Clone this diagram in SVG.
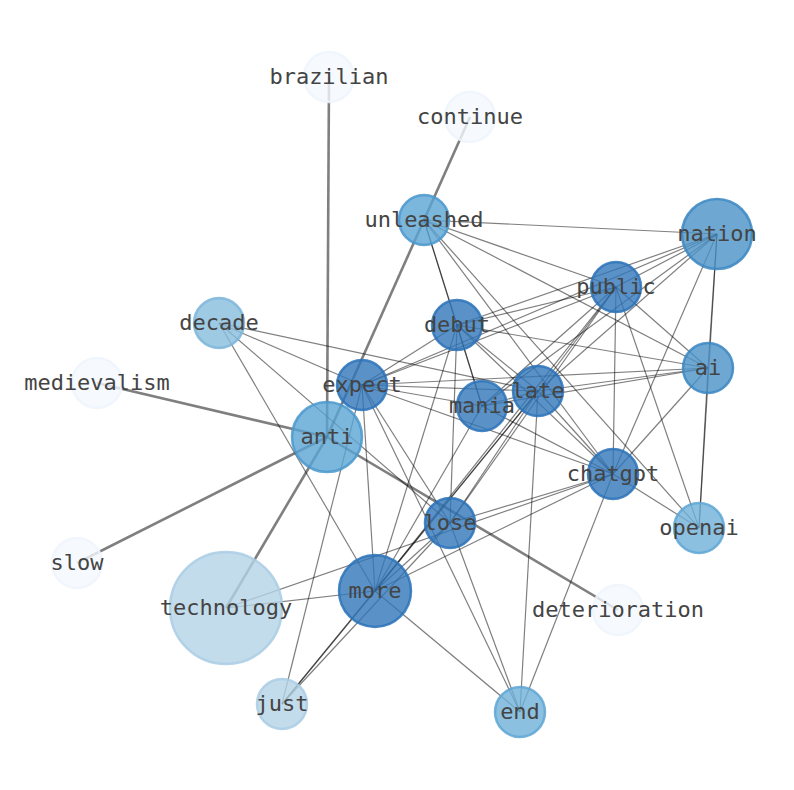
<svg xmlns="http://www.w3.org/2000/svg" width="794" height="790" viewBox="0 0 794 790">
<style>
.e{stroke:#000;stroke-opacity:0.5;stroke-width:1.2;fill:none}
.t{stroke:#000;stroke-opacity:0.5;stroke-width:2.6;fill:none}
circle{fill-opacity:0.8;stroke-opacity:0.85;stroke-width:2.5}
.c0{fill:#f4f9ff;stroke:#eef5fd}
.c1{fill:#b4d3e7;stroke:#a9cde4}
.c2{fill:#86bddd;stroke:#7cb5da}
.c3{fill:#6fb0d8;stroke:#5ea6d4}
.c4{fill:#5aa4d3;stroke:#4a98cd}
.c5{fill:#4a92c7;stroke:#3b86c2}
.c6{fill:#3177ba;stroke:#2a72b8}
text{font-family:"DejaVu Sans Mono","Liberation Mono",monospace;font-size:22px;fill:#444;text-anchor:middle}
</style>
<rect width="794" height="790" fill="#fff"/>
<g id="edges">
<line class="t" x1="327" y1="437" x2="329" y2="77"/>
<line class="t" x1="327" y1="437" x2="470" y2="117"/>
<line class="t" x1="327" y1="437" x2="97" y2="383"/>
<line class="t" x1="327" y1="437" x2="77" y2="563"/>
<line class="t" x1="327" y1="437" x2="226" y2="608"/>
<line class="t" x1="327" y1="437" x2="618" y2="610"/>
<line class="e" x1="424" y1="220" x2="717" y2="234"/>
<line class="e" x1="424" y1="220" x2="616" y2="287"/>
<line class="e" x1="424" y1="220" x2="708" y2="368"/>
<line class="e" x1="424" y1="220" x2="613" y2="474"/>
<line class="e" x1="424" y1="220" x2="699" y2="528"/>
<line class="e" x1="424" y1="220" x2="457" y2="325"/>
<line class="e" x1="424" y1="220" x2="482" y2="406"/>
<line class="e" x1="717" y1="234" x2="616" y2="287"/>
<line class="e" x1="717" y1="234" x2="457" y2="325"/>
<line class="e" x1="717" y1="234" x2="362" y2="385"/>
<line class="e" x1="717" y1="234" x2="538" y2="391"/>
<line class="e" x1="717" y1="234" x2="482" y2="406"/>
<line class="e" x1="717" y1="234" x2="613" y2="474"/>
<line class="e" x1="717" y1="234" x2="708" y2="368"/>
<line class="e" x1="717" y1="234" x2="699" y2="528"/>
<line class="e" x1="616" y1="287" x2="457" y2="325"/>
<line class="e" x1="616" y1="287" x2="362" y2="385"/>
<line class="e" x1="616" y1="287" x2="538" y2="391"/>
<line class="e" x1="616" y1="287" x2="482" y2="406"/>
<line class="e" x1="616" y1="287" x2="708" y2="368"/>
<line class="e" x1="616" y1="287" x2="613" y2="474"/>
<line class="e" x1="616" y1="287" x2="699" y2="528"/>
<line class="e" x1="616" y1="287" x2="450" y2="523"/>
<line class="e" x1="616" y1="287" x2="375" y2="591"/>
<line class="e" x1="457" y1="325" x2="362" y2="385"/>
<line class="e" x1="457" y1="325" x2="538" y2="391"/>
<line class="e" x1="457" y1="325" x2="482" y2="406"/>
<line class="e" x1="457" y1="325" x2="708" y2="368"/>
<line class="e" x1="457" y1="325" x2="613" y2="474"/>
<line class="e" x1="457" y1="325" x2="450" y2="523"/>
<line class="e" x1="457" y1="325" x2="375" y2="591"/>
<line class="e" x1="362" y1="385" x2="538" y2="391"/>
<line class="e" x1="362" y1="385" x2="482" y2="406"/>
<line class="e" x1="362" y1="385" x2="613" y2="474"/>
<line class="e" x1="362" y1="385" x2="708" y2="368"/>
<line class="e" x1="362" y1="385" x2="375" y2="591"/>
<line class="e" x1="362" y1="385" x2="450" y2="523"/>
<line class="e" x1="362" y1="385" x2="520" y2="712"/>
<line class="e" x1="362" y1="385" x2="282" y2="704"/>
<line class="e" x1="362" y1="385" x2="219" y2="323"/>
<line class="e" x1="538" y1="391" x2="482" y2="406"/>
<line class="e" x1="538" y1="391" x2="708" y2="368"/>
<line class="e" x1="538" y1="391" x2="613" y2="474"/>
<line class="e" x1="538" y1="391" x2="450" y2="523"/>
<line class="e" x1="538" y1="391" x2="375" y2="591"/>
<line class="e" x1="538" y1="391" x2="520" y2="712"/>
<line class="e" x1="538" y1="391" x2="282" y2="704"/>
<line class="e" x1="538" y1="391" x2="219" y2="323"/>
<line class="e" x1="482" y1="406" x2="708" y2="368"/>
<line class="e" x1="482" y1="406" x2="613" y2="474"/>
<line class="e" x1="482" y1="406" x2="375" y2="591"/>
<line class="e" x1="708" y1="368" x2="613" y2="474"/>
<line class="e" x1="708" y1="368" x2="699" y2="528"/>
<line class="e" x1="613" y1="474" x2="699" y2="528"/>
<line class="e" x1="613" y1="474" x2="450" y2="523"/>
<line class="e" x1="613" y1="474" x2="375" y2="591"/>
<line class="e" x1="613" y1="474" x2="520" y2="712"/>
<line class="e" x1="613" y1="474" x2="226" y2="608"/>
<line class="e" x1="450" y1="523" x2="375" y2="591"/>
<line class="e" x1="450" y1="523" x2="520" y2="712"/>
<line class="e" x1="450" y1="523" x2="282" y2="704"/>
<line class="e" x1="450" y1="523" x2="219" y2="323"/>
<line class="e" x1="375" y1="591" x2="520" y2="712"/>
<line class="e" x1="375" y1="591" x2="282" y2="704"/>
<line class="e" x1="375" y1="591" x2="226" y2="608"/>
<line class="e" x1="375" y1="591" x2="219" y2="323"/>
</g>
<g id="brazilian"><circle class="c0" cx="329" cy="77" r="25"/><text x="329" y="84">brazilian</text></g>
<g id="continue"><circle class="c0" cx="470" cy="117" r="25"/><text x="470" y="124">continue</text></g>
<g id="unleashed"><circle class="c4" cx="424" cy="220" r="25"/><text x="424" y="227">unleashed</text></g>
<g id="nation"><circle class="c5" cx="717" cy="234" r="35"/><text x="717" y="241">nation</text></g>
<g id="public"><circle class="c6" cx="616" cy="287" r="25"/><text x="616" y="294">public</text></g>
<g id="decade"><circle class="c2" cx="219" cy="323" r="25"/><text x="219" y="330">decade</text></g>
<g id="debut"><circle class="c6" cx="457" cy="325" r="25"/><text x="457" y="332">debut</text></g>
<g id="medievalism"><circle class="c0" cx="97" cy="383" r="25"/><text x="97" y="390">medievalism</text></g>
<g id="expect"><circle class="c6" cx="362" cy="385" r="25"/><text x="362" y="392">expect</text></g>
<g id="ai"><circle class="c5" cx="708" cy="368" r="25"/><text x="708" y="375">ai</text></g>
<g id="anti"><circle class="c4" cx="327" cy="437" r="35"/><text x="327" y="444">anti</text></g>
<g id="mania"><circle class="c6" cx="482" cy="406" r="25"/><text x="482" y="413">mania</text></g>
<g id="late"><circle class="c6" cx="538" cy="391" r="25"/><text x="538" y="398">late</text></g>
<g id="chatgpt"><circle class="c6" cx="613" cy="474" r="25"/><text x="613" y="481">chatgpt</text></g>
<g id="lose"><circle class="c6" cx="450" cy="523" r="25"/><text x="450" y="530">lose</text></g>
<g id="openai"><circle class="c3" cx="699" cy="528" r="25"/><text x="699" y="535">openai</text></g>
<g id="slow"><circle class="c0" cx="77" cy="563" r="25"/><text x="77" y="570">slow</text></g>
<g id="technology"><circle class="c1" cx="226" cy="608" r="56"/><text x="226" y="615">technology</text></g>
<g id="more"><circle class="c6" cx="375" cy="591" r="36"/><text x="375" y="598">more</text></g>
<g id="deterioration"><circle class="c0" cx="618" cy="610" r="25"/><text x="618" y="617">deterioration</text></g>
<g id="just"><circle class="c1" cx="282" cy="704" r="25"/><text x="282" y="711">just</text></g>
<g id="end"><circle class="c3" cx="520" cy="712" r="25"/><text x="520" y="719">end</text></g>
</svg>
